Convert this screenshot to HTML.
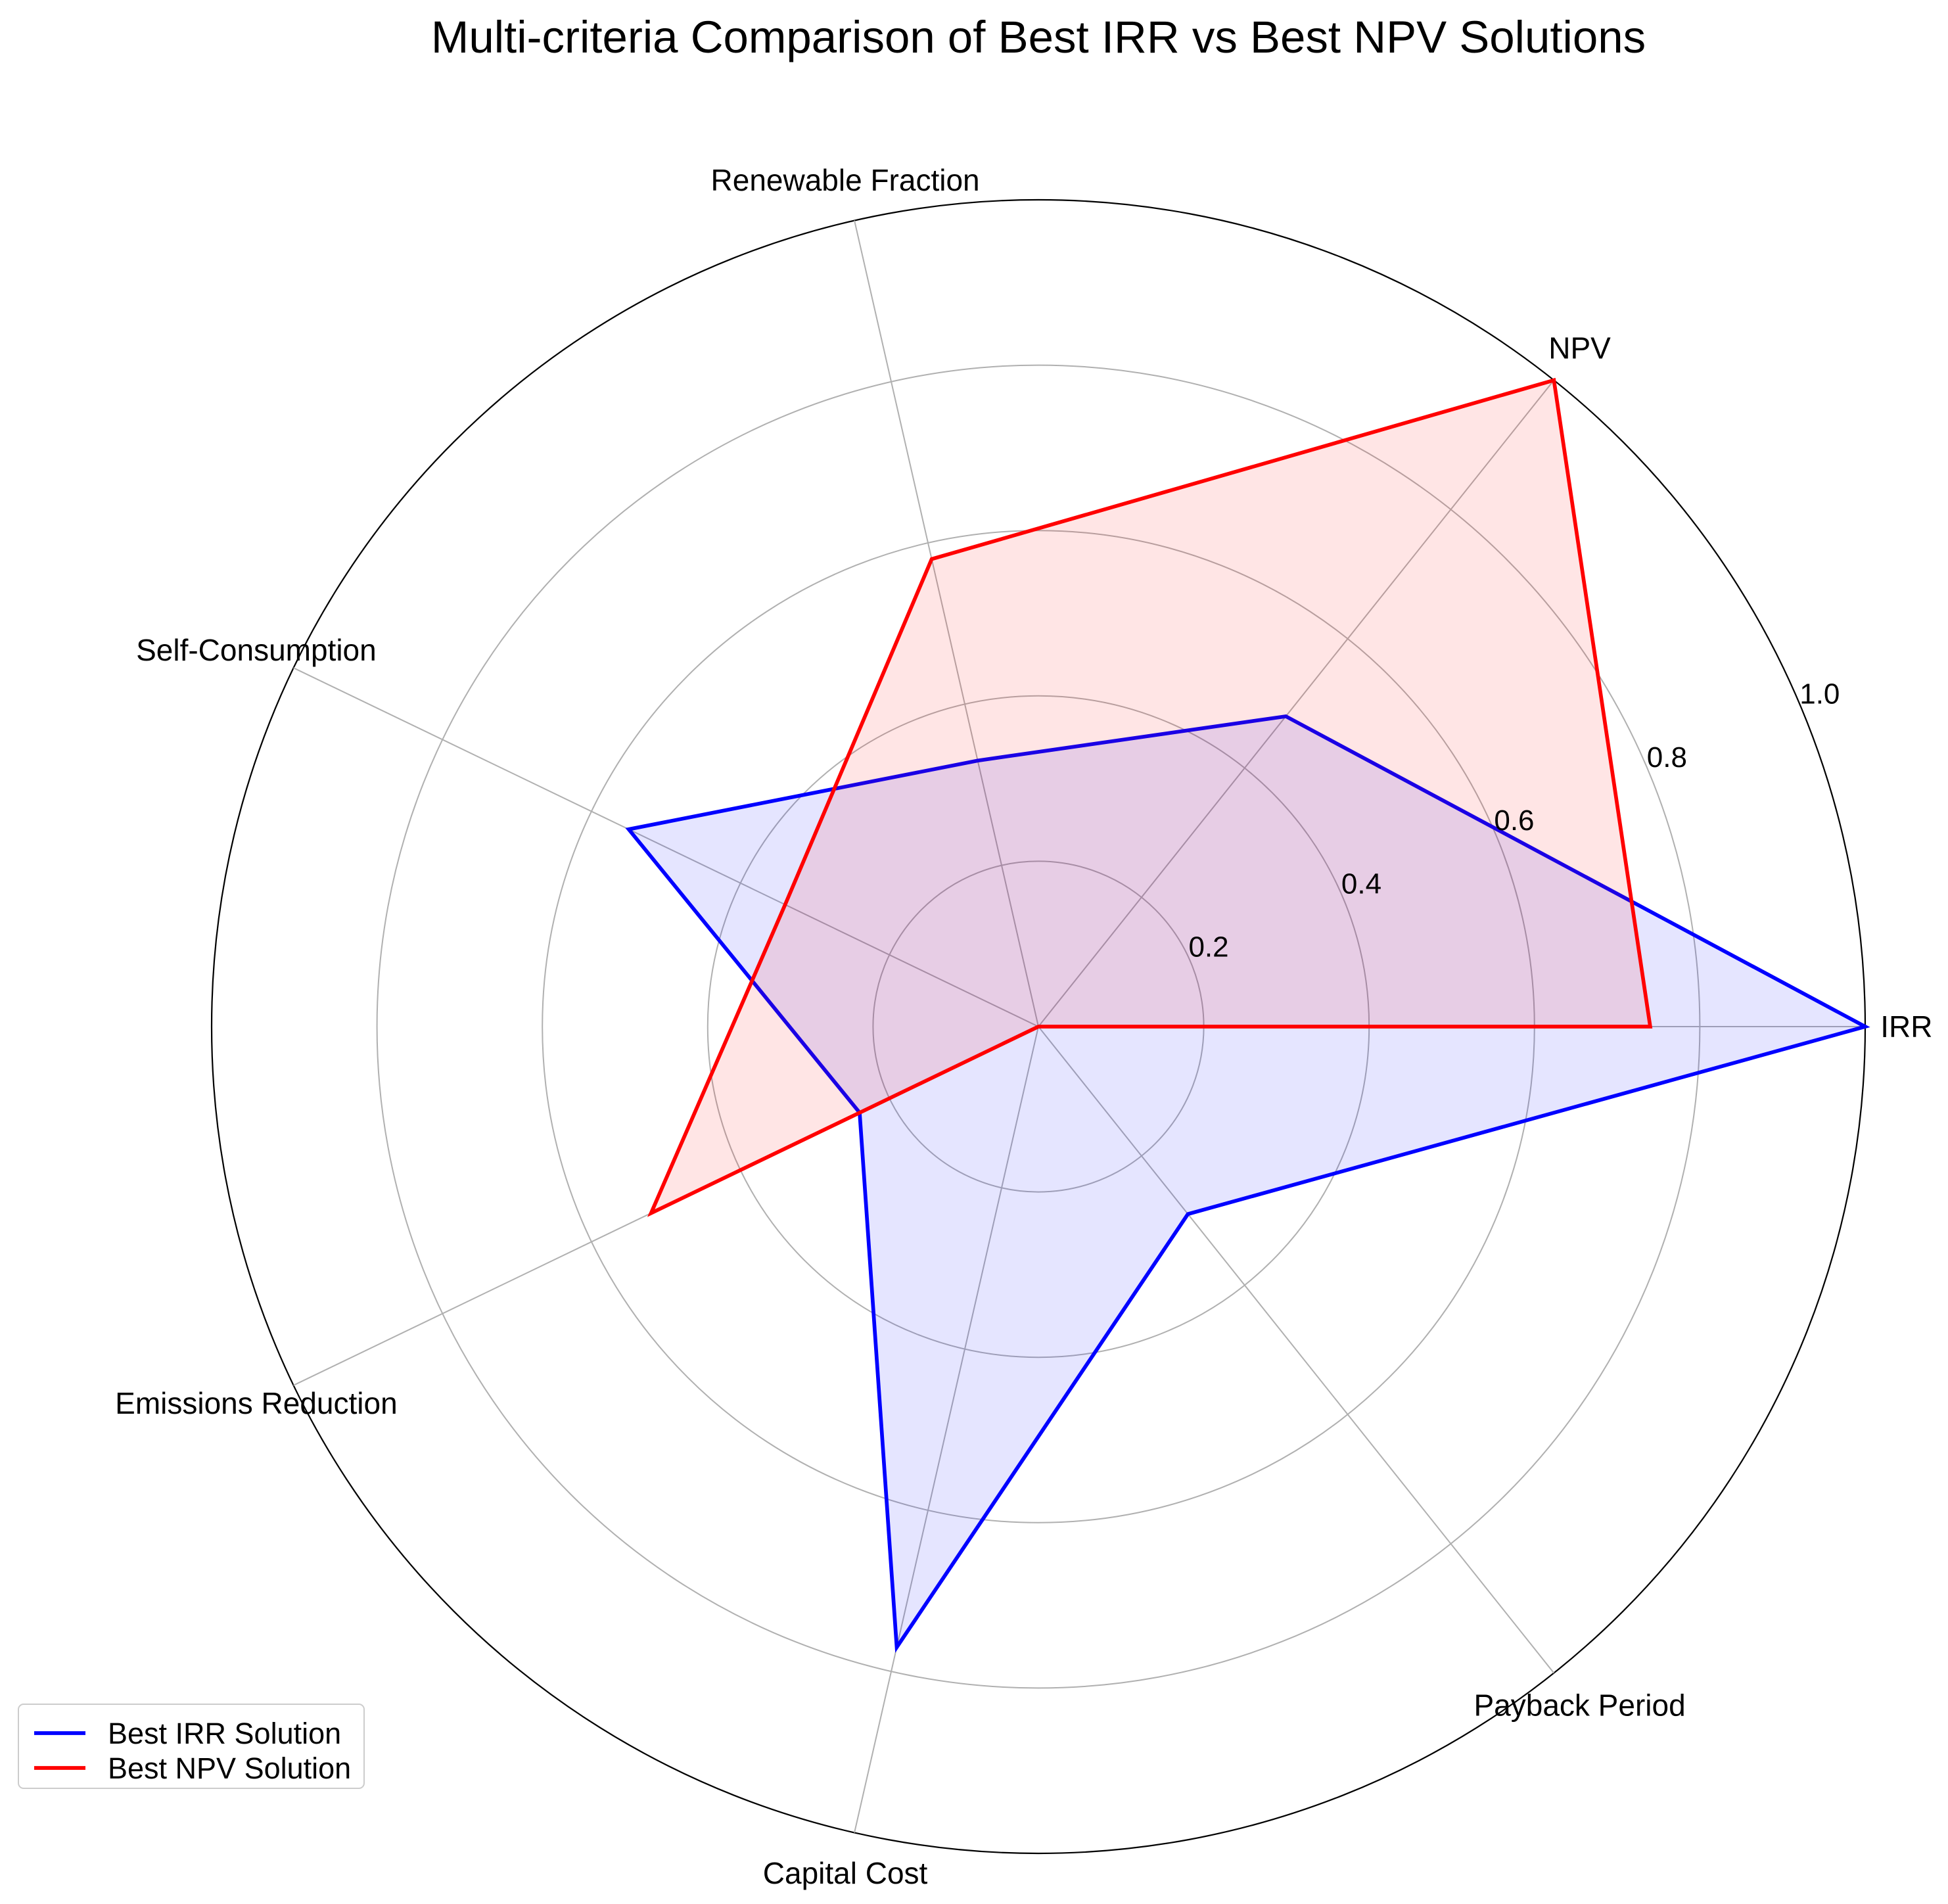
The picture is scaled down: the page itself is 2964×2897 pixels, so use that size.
<!DOCTYPE html>
<html><head><meta charset="utf-8"><style>
html,body{margin:0;padding:0;background:#fff}
svg{display:block;font-family:"Liberation Sans","DejaVu Sans",sans-serif}
</style></head><body>
<svg id="chart" width="2964" height="2897" viewBox="0 0 2964 2897" xmlns="http://www.w3.org/2000/svg">
<rect width="2964" height="2897" fill="#fff"/>
<text x="1580" y="80" font-size="69" text-anchor="middle" fill="#000">Multi-criteria Comparison of Best IRR vs Best NPV Solutions</text>
<g id="grid"></g>
<g id="series"></g>
<g id="labels"></g>
<g>
<rect x="28" y="2593" width="526" height="128" rx="8" fill="#fff" stroke="#ccc" stroke-width="2"/>
<g>
<line x1="52" y1="2637" x2="130" y2="2637" stroke="#0000ff" stroke-width="5.7"/>
<text x="164" y="2653" font-size="45">Best IRR Solution</text></g>
<g>
<line x1="52" y1="2690" x2="130" y2="2690" stroke="#ff0000" stroke-width="5.7"/>
<text x="164" y="2706" font-size="45">Best NPV Solution</text></g>
</g>
</svg>
<script>
const categories = ["IRR","NPV","Renewable Fraction","Self-Consumption","Emissions Reduction","Capital Cost","Payback Period"];
const irrValues = [1.0,0.48,0.33,0.55,0.24,0.77,0.29];
const npvValues = [0.74,1.0,0.58,0.34,0.52,0.0,0.0];
const radialTicks = [0.2,0.4,0.6,0.8,1.0];
const tickLabels = ["0.2","0.4","0.6","0.8","1.0"];

const NS="http://www.w3.org/2000/svg";
const cx=1580, cy=1562, R=1258;
const n=categories.length;
function ang(i){return 2*Math.PI*i/n;}
function pt(i,v){const a=ang(i);return [cx+R*v*Math.cos(a), cy-R*v*Math.sin(a)];}
function mk(tag,attrs,parent){const e=document.createElementNS(NS,tag);for(const k in attrs)e.setAttribute(k,attrs[k]);parent.appendChild(e);return e;}
const grid=document.getElementById('grid'), series=document.getElementById('series'), labels=document.getElementById('labels');

radialTicks.forEach((t,k)=>{
  const c=mk('circle',{cx:cx,cy:cy,r:R*t,fill:'none',stroke:t>=1?'#000':'#b0b0b0','stroke-width':t>=1?2.2:2},grid);
  
  
});
categories.forEach((c,i)=>{
  const p=pt(i,1);
  const l=mk('line',{x1:cx,y1:cy,x2:p[0],y2:p[1],stroke:'#b0b0b0','stroke-width':2},grid);
  
  
  const q=pt(i,1.05);
  const t=mk('text',{x:q[0],y:q[1]+16,'font-size':46,'text-anchor':'middle',fill:'#000'},labels);
  t.textContent=c;
  
  
});
const ta=22.5*Math.PI/180;
radialTicks.forEach((t,k)=>{
  const x=cx+R*t*Math.cos(ta), y=cy-R*t*Math.sin(ta);
  const e=mk('text',{x:x-4,y:y-10,'font-size':44,'text-anchor':'start',fill:'#000'},labels);
  e.textContent=tickLabels[k];
  
  
});
function draw(vals,color,name){
  const pts=vals.map((v,i)=>pt(i,v).join(',')).join(' ');
  const f=mk('polygon',{points:pts,fill:color,'fill-opacity':0.1,stroke:'none'},series);
  
  
  const l=mk('polygon',{points:pts,fill:'none',stroke:color,'stroke-width':5.7,'stroke-linejoin':'miter'},series);
  
  
}
draw(irrValues,'#0000ff','best-irr');
draw(npvValues,'#ff0000','best-npv');
</script>
</body></html>
